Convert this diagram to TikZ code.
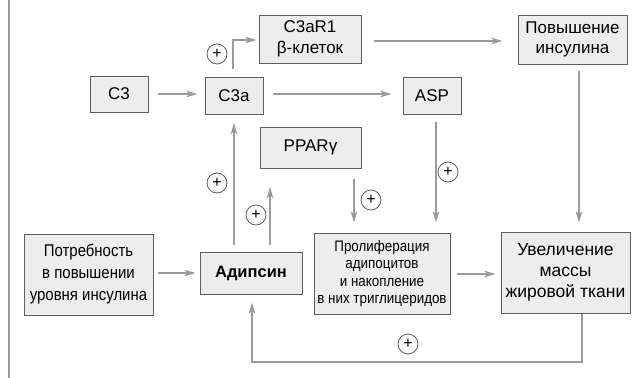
\documentclass[tikz,border=0pt]{standalone}
\usepackage{fontspec}
\setmainfont{Liberation Sans}
\newfontfamily\condfont[FakeStretch=0.88]{Liberation Sans}
\usetikzlibrary{arrows.meta}
\definecolor{linegray}{HTML}{9A9A9A}
\definecolor{boxfill}{HTML}{EDEDED}
\definecolor{boxline}{HTML}{5E5E5E}
\tikzset{
  x=1pt, y=-1pt,
  box/.style={draw=boxline, fill=boxfill, line width=1pt, inner sep=0pt, align=center,
    font=\fontsize{17}{20.5}\selectfont},
  arr/.style={draw=linegray, line width=1.2pt, -{Stealth[length=11pt,width=6.5pt,inset=2.5pt]}},
  plus/.style={circle, draw=boxline, line width=0.8pt, minimum size=20pt, inner sep=0pt,
    font=\fontsize{16}{16}\selectfont}
}
\begin{document}
\begin{tikzpicture}
\useasboundingbox (0,0) rectangle (633,378);
\draw[linegray, line width=1.5pt] (9,0) -- (9,378);

\node[box, minimum width=58pt, minimum height=36pt] (c3) at (119,94) {C3};
\node[box, minimum width=58pt, minimum height=37pt] (c3a) at (234,96) {C3a};
\node[box, minimum width=102pt, minimum height=48pt] (r1) at (310,39) {C3aR1\\β-клеток};
\node[box, minimum width=109pt, minimum height=49pt] (pov) at (572.5,39.5) {Повышение\\инсулина};
\node[box, minimum width=58pt, minimum height=37pt] (asp) at (432,96) {ASP};
\node[box, minimum width=101pt, minimum height=41pt] (ppar) at (310.5,147.5) {PPARγ};
\node[box, minimum width=129pt, minimum height=81pt, font=\condfont\fontsize{17}{22}\selectfont] (potr) at (88.5,274.5) {Потребность\\в повышении\\уровня инсулина};
\node[box, minimum width=102pt, minimum height=42pt, font=\bfseries\fontsize{16.5}{20}\selectfont] (adip) at (251,273) {Адипсин};
\node[box, minimum width=136pt, minimum height=81pt, font=\condfont\fontsize{15.2}{17.2}\selectfont] (prol) at (382,273.5) {Пролиферация\\адипоцитов\\и накопление\\в них триглицеридов};
\node[box, minimum width=129pt, minimum height=81pt, font=\fontsize{17.5}{21}\selectfont] (uvel) at (565.5,272.5) {Увеличение\\массы\\жировой ткани};

% connectors
\draw[arr, shorten <=9pt, shorten >=7pt] (c3.east) -- (c3.east -| c3a.west);
\draw[arr, shorten <=9pt, shorten >=11pt] (c3a.east |- c3.east) -- (c3.east -| asp.west);
\coordinate (bend) at (233,40);
\draw[arr, shorten <=8pt, shorten >=2pt] (c3a.north -| bend) -- (bend) -- (bend -| r1.west);
\draw[arr, shorten <=12pt, shorten >=15pt] (r1.east |- 0,41) -- (pov.west |- 0,41);
\draw[arr, shorten <=6pt, shorten >=9pt] (pov.south -| 579,0) -- (uvel.north -| 579,0);
\draw[arr, shorten <=7pt, shorten >=10pt] (asp.south -| 436,0) -- (prol.north -| 436,0);
\draw[arr, shorten <=10pt, shorten >=10pt] (ppar.south -| 354,0) -- (prol.north -| 354,0);
\draw[arr, shorten <=7pt, shorten >=8pt] (adip.north -| 234,0) -- (c3a.south -| 234,0);
\coordinate (upend) at (270,187);
\draw[arr, shorten <=7pt] (adip.north -| upend) -- (upend);
\draw[arr, shorten <=4pt, shorten >=4pt] (potr.east |- adip.east) -- (adip.west);
\draw[arr, shorten <=6pt, shorten >=5pt] (prol.east |- 0,274) -- (uvel.west |- 0,274);
\coordinate (fb1) at (582,362);
\coordinate (fb2) at (252,362);
\draw[arr, shorten >=8pt] (uvel.south -| fb1) -- (fb1) -- (fb2) -- (adip.south -| fb2);

% plus signs
\node[plus] (p1) at (217,54) {+};
\node[plus] (p2) at (217,183) {+};
\node[plus] (p3) at (256,215) {+};
\node[plus] (p4) at (448,172) {+};
\node[plus] (p5) at (371,200) {+};
\node[plus] (p6) at (408,344) {+};
\end{tikzpicture}
\end{document}
